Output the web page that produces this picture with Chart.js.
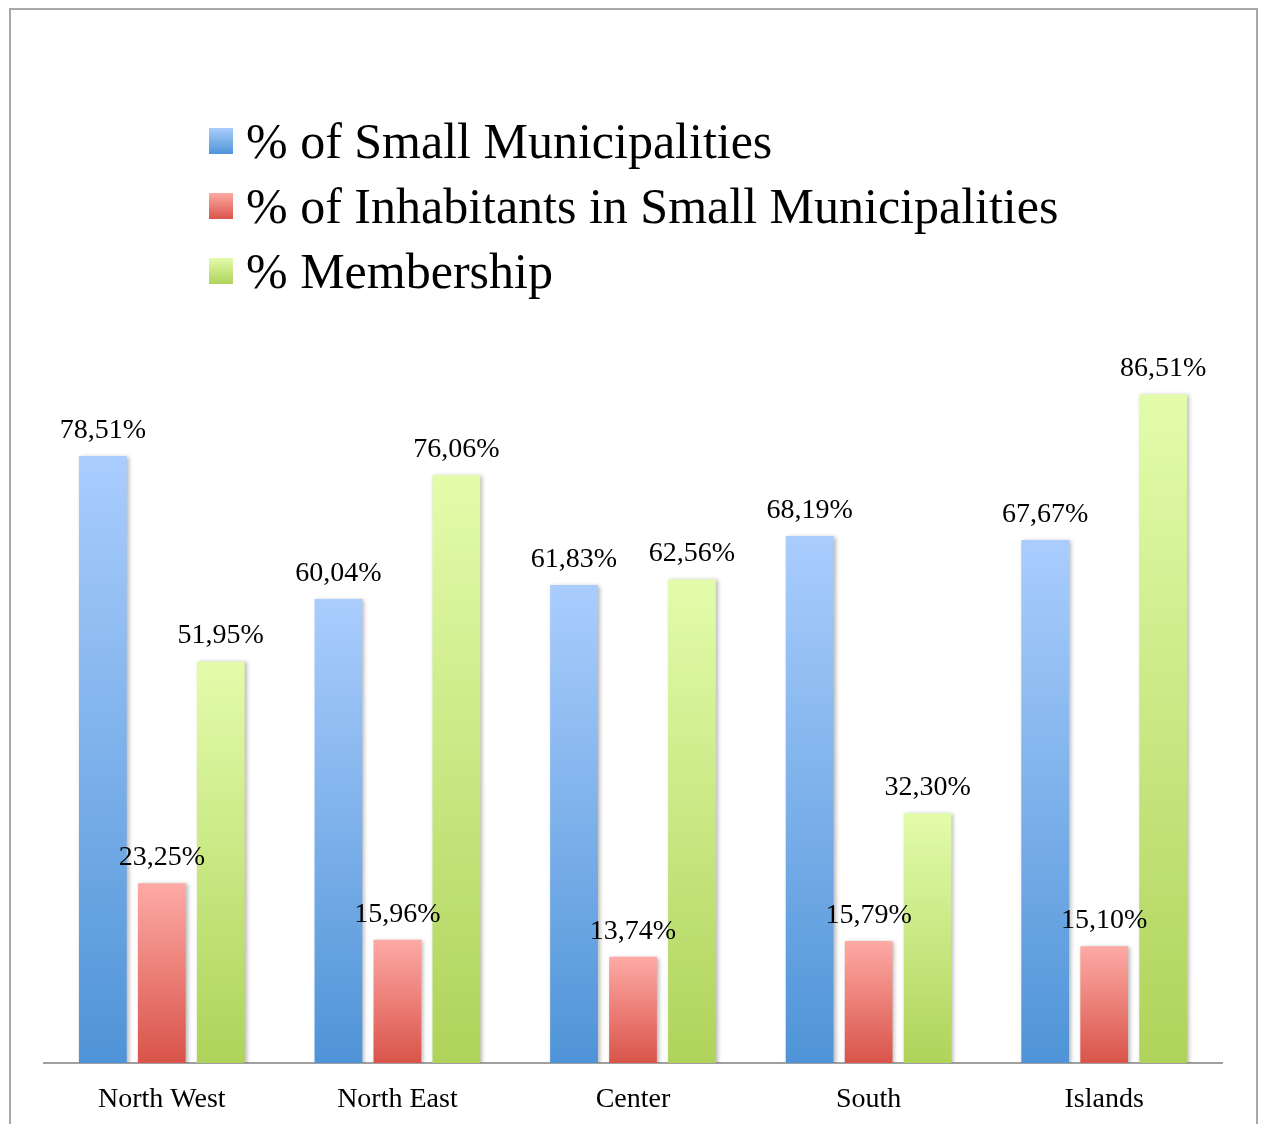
<!DOCTYPE html>
<html>
<head>
<meta charset="utf-8">
<title>Small Municipalities by Area</title>
<script src="https://cdn.jsdelivr.net/npm/chart.js@4.4.1/dist/chart.umd.min.js"></script>
<style>
  html, body { margin: 0; padding: 0; background: #fff; overflow: hidden; }
  #wrap { position: relative; width: 1261px; height: 1124px; }
  #frame {
    position: absolute; left: 9px; top: 8px; width: 1245px; height: 1200px;
    border: 2px solid #a8a8a8; border-bottom: none;
  }
  #chart { position: absolute; left: 0; top: 0; }
  #legend {
    position: absolute; left: 209px; top: 108px;
    font-family: "Liberation Serif", serif; font-size: 50px; color: #000;
  }
  #legend .item { display: flex; align-items: center; height: 65px; }
  #legend .sw { width: 24px; height: 26px; margin-right: 13px; }
</style>
</head>
<body>
<div id="wrap">
  <div id="frame"></div>
  <canvas id="chart" width="1261" height="1124"></canvas>
  <div id="legend"></div>
</div>
<script>
/* Regions and series */
const regions = ['North West', 'North East', 'Center', 'South', 'Islands'];
const smallMunicipalities = [78.51, 60.04, 61.83, 68.19, 67.67];
const inhabitantsSmall = [23.25, 15.96, 13.74, 15.79, 15.10];
const membership = [51.95, 76.06, 62.56, 32.30, 86.51];

const seriesNames = [
  '% of Small Municipalities',
  '% of Inhabitants in Small Municipalities',
  '% Membership'
];
// light top / dark bottom of each series gradient
const seriesColors = [
  ['#aacdfd', '#4f94d7'],
  ['#fdaaa5', '#d9544a'],
  ['#e3fcab', '#afd35a']
];

const FONT = '"Liberation Serif", serif';

function barGradient(light, dark){
  return (ctx) => {
    const chart = ctx.chart;
    if(!chart.chartArea || ctx.type !== 'data') return dark;
    const y = chart.scales.y;
    const top = y.getPixelForValue(ctx.raw);
    const base = y.getPixelForValue(0);
    const g = chart.ctx.createLinearGradient(0, top, 0, base);
    g.addColorStop(0, light);
    g.addColorStop(1, dark);
    return g;
  };
}

function fmt(v){ return v.toFixed(2).replace('.', ',') + '%'; }

/* soft drop shadow under the bars */
const barShadow = {
  id: 'barShadow',
  beforeDatasetsDraw(chart){
    const c = chart.ctx;
    c.save();
    c.shadowColor = 'rgba(0,0,0,0.28)';
    c.shadowBlur = 4;
    c.shadowOffsetX = 2;
    c.shadowOffsetY = 1;
  },
  afterDatasetsDraw(chart){ chart.ctx.restore(); }
};

/* value labels above each bar */
const valueLabels = {
  id: 'valueLabels',
  afterDatasetsDraw(chart){
    const c = chart.ctx;
    c.save();
    c.font = '28px ' + FONT;
    c.fillStyle = '#000';
    c.textAlign = 'center';
    c.textBaseline = 'alphabetic';
    chart.data.datasets.forEach((ds, i) => {
      chart.getDatasetMeta(i).data.forEach((bar, j) => {
        c.fillText(fmt(ds.data[j]), bar.x, bar.y - 18);
      });
    });
    c.restore();
  }
};

const datasets = [smallMunicipalities, inhabitantsSmall, membership].map((data, i) => ({
  label: seriesNames[i],
  data,
  backgroundColor: barGradient(seriesColors[i][0], seriesColors[i][1]),
  borderWidth: 0,
  barPercentage: 0.81,
  categoryPercentage: 0.751
}));

new Chart(document.getElementById('chart'), {
  type: 'bar',
  data: { labels: regions, datasets },
  options: {
    responsive: false,
    animation: false,
    layout: { padding: { left: 44, right: 39, top: 290, bottom: 0 } },
    plugins: { legend: { display: false }, tooltip: { enabled: false } },
    scales: {
      x: {
        grid: { display: false },
        border: { display: true, color: '#a0a0a0', width: 2 },
        ticks: { color: '#000', font: { family: FONT, size: 28 }, padding: 12 },
        afterFit(scale){ scale.height = 61; }
      },
      y: { display: false, min: 0, max: 100 }
    }
  },
  plugins: [barShadow, valueLabels]
});

/* legend */
const legendEl = document.getElementById('legend');
seriesNames.forEach((name, i) => {
  const item = document.createElement('div');
  item.className = 'item';
  item.innerHTML = `<span class="sw" style="background:linear-gradient(${seriesColors[i][0]}, ${seriesColors[i][1]})"></span><span>${name}</span>`;
  legendEl.appendChild(item);
});
</script>
</body>
</html>
